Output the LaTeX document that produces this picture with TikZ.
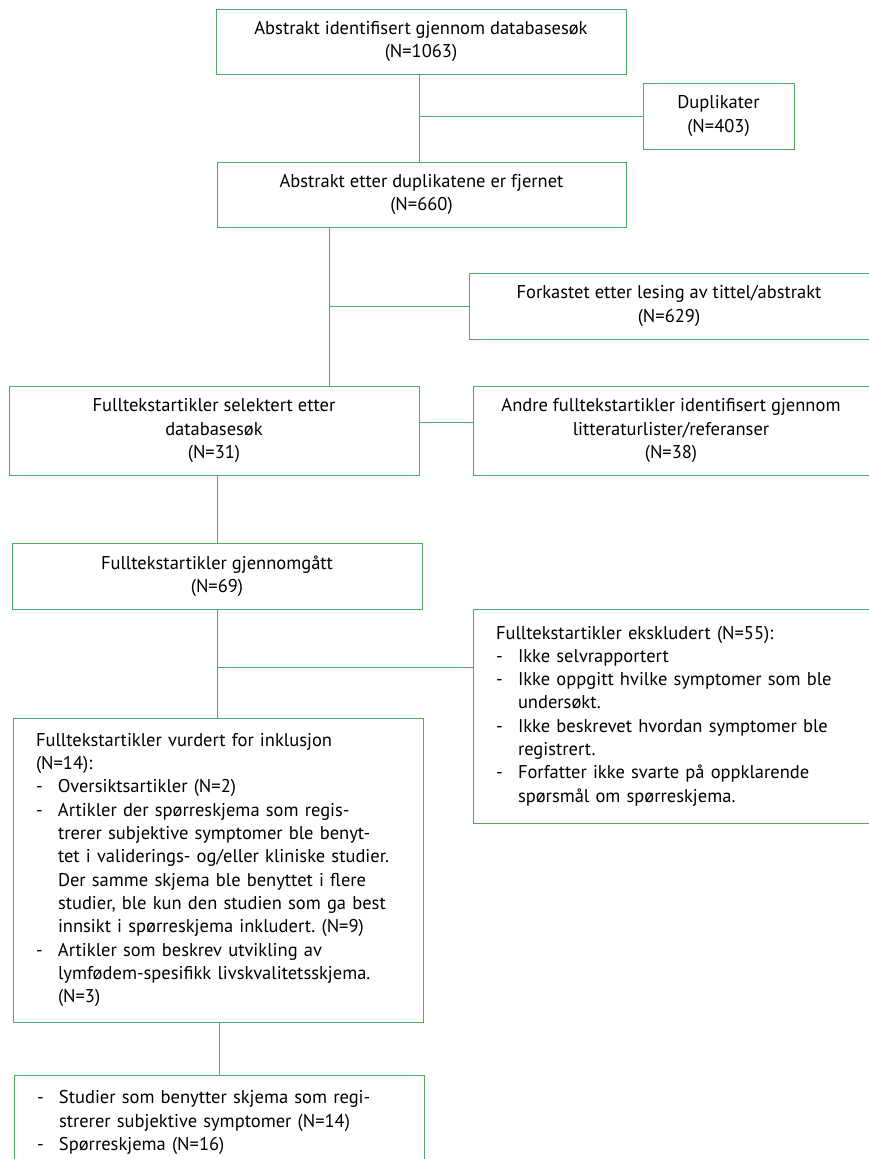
\documentclass[tikz,border=0pt]{standalone}
\usepackage{fontspec}
\setmainfont{PT Sans}
\definecolor{flowgreen}{RGB}{76,172,98}
\newcommand{\listdash}{\makebox[22pt][l]{-}}
\newcommand{\listgap}{\hspace*{22pt}}
\frenchspacing

\begin{document}
\begin{tikzpicture}[x=1pt,y=-1pt,
  box/.style={draw=flowgreen, line width=1pt, rectangle, inner sep=0pt,
    align=center, font=\fontsize{18.5}{23.3}\selectfont},
  listbox/.style={box, align=left, inner xsep=23pt, text width=#1},
  link/.style={draw=flowgreen, line width=1pt}]
\useasboundingbox (0,0) rectangle (868,1159);

% search and screening
\node[box, minimum width=410pt, minimum height=65pt] (found) at (421,41.5)
  {Abstrakt identifisert gjennom databasesøk\\(N=1063)};
\node[box, minimum width=151pt, minimum height=66pt] (dupl) at (718.5,116)
  {Duplikater\\(N=403)};
\node[box, minimum width=409pt, minimum height=65pt] (nodupl) at (421.5,194.5)
  {Abstrakt etter duplikatene er fjernet\\(N=660)};
\node[box, minimum width=400pt, minimum height=66pt] (reject) at (669,306)
  {Forkastet etter lesing av tittel/abstrakt\\(N=629)};

% full texts
\node[box, minimum width=410pt, minimum height=89pt] (selected) at (214,430.5)
  {Fulltekstartikler selektert etter\\databasesøk\\(N=31)};
\node[box, minimum width=396pt, minimum height=89pt] (others) at (671,430.5)
  {Andre fulltekstartikler identifisert gjennom\\litteraturlister/referanser\\(N=38)};
\node[box, minimum width=410pt, minimum height=66pt] (reviewed) at (217,576)
  {Fulltekstartikler gjennomgått\\(N=69)};
\node[listbox=350pt, minimum width=396pt, minimum height=214pt] (excluded) at (671,716)
  {Fulltekstartikler ekskludert (N=55):\\
   \listdash Ikke selvrapportert\\
   \listdash Ikke oppgitt hvilke symptomer som ble\\
   \listgap undersøkt.\\
   \listdash Ikke beskrevet hvordan symptomer ble\\
   \listgap registrert.\\
   \listdash Forfatter ikke svarte på oppklarende\\
   \listgap spørsmål om spørreskjema.};
\node[listbox=364pt, minimum width=410pt, minimum height=304pt] (assessed) at (218,870)
  {Fulltekstartikler vurdert for inklusjon\\
   (N=14):\\
   \listdash Oversiktsartikler (N=2)\\
   \listdash Artikler der spørreskjema som regis-\\
   \listgap trerer subjektive symptomer ble benyt-\\
   \listgap tet i validerings- og/eller kliniske studier.\\
   \listgap Der samme skjema ble benyttet i flere\\
   \listgap studier, ble kun den studien som ga best\\
   \listgap innsikt i spørreskjema inkludert. (N=9)\\
   \listdash Artikler som beskrev utvikling av\\
   \listgap lymfødem-spesifikk livskvalitetsskjema.\\
   \listgap (N=3)};
\node[listbox=364pt, minimum width=410pt, minimum height=95pt] (result) at (219,1122.5)
  {\listdash Studier som benytter skjema som regi-\\
   \listgap strerer subjektive symptomer (N=14)\\
   \listdash Spørreskjema (N=16)};

% junctions
\coordinate (j1) at (419,116);
\coordinate (j2) at (329,306);
\coordinate (j3) at (419,422);
\coordinate (j4) at (217,667);

\draw[link] (found.south -| j1) -- (nodupl.north -| j1);
\draw[link] (j1) -- (dupl.west);
\draw[link] (nodupl.south -| j2) -- (selected.north -| j2);
\draw[link] (j2) -- (reject.west);
\draw[link] (j3) -- (j3 -| others.west);
\draw[link] (reviewed.north |- selected.south) -- (reviewed.north);
\draw[link] (reviewed.south -| j4) -- (assessed.north -| j4);
\draw[link] (j4) -- (j4 -| excluded.west);
\draw[link] (assessed.south -| result.north) -- (result.north);
\end{tikzpicture}
\end{document}
